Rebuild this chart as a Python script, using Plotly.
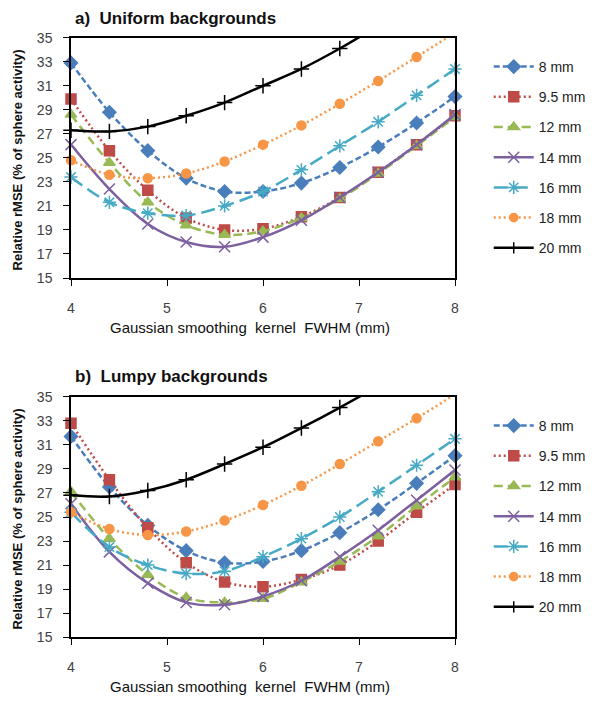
import plotly.graph_objects as go

fwhm = [4.0, 4.4, 4.8, 5.2, 5.6, 6.0, 6.4, 6.8, 7.2, 7.6, 8.0]
sizes = ["8 mm", "9.5 mm", "12 mm", "14 mm", "16 mm", "18 mm", "20 mm"]

uniform_8 = [32.9, 28.8, 25.6, 23.3, 22.2, 22.2, 22.9, 24.2, 25.9, 27.9, 30.1]
uniform_9_5 = [29.9, 25.6, 22.3, 20.0, 19.0, 19.1, 20.1, 21.7, 23.8, 26.1, 28.5]
uniform_12 = [28.6, 24.6, 21.3, 19.4, 18.6, 18.9, 20.0, 21.6, 23.7, 26.0, 28.4]
uniform_14 = [26.1, 22.4, 19.5, 18.0, 17.6, 18.4, 19.8, 21.7, 23.8, 26.1, 28.6]
uniform_16 = [23.4, 21.3, 20.4, 20.2, 21.0, 22.2, 24.0, 26.0, 28.0, 30.2, 32.4]
uniform_18 = [24.8, 23.6, 23.3, 23.7, 24.7, 26.1, 27.7, 29.5, 31.4, 33.4, 35.4]
uniform_20 = [27.3, 27.2, 27.6, 28.5, 29.6, 31.0, 32.4, 34.1, 36.0, 38.0, 40.1]

lumpy_8 = [31.7, 27.5, 24.3, 22.2, 21.2, 21.3, 22.2, 23.7, 25.6, 27.8, 30.1]
lumpy_9_5 = [32.8, 28.1, 24.1, 21.2, 19.6, 19.2, 19.8, 21.0, 23.0, 25.4, 27.7]
lumpy_12 = [27.1, 23.2, 20.2, 18.3, 17.9, 18.2, 19.6, 21.3, 23.4, 25.9, 28.3]
lumpy_14 = [26.1, 22.1, 19.5, 17.9, 17.7, 18.4, 19.7, 21.7, 23.9, 26.4, 28.9]
lumpy_16 = [25.4, 22.5, 21.0, 20.3, 20.5, 21.7, 23.2, 25.0, 27.1, 29.3, 31.5]
lumpy_18 = [25.4, 24.0, 23.5, 23.8, 24.7, 26.0, 27.6, 29.4, 31.3, 33.2, 35.2]
lumpy_20 = [26.8, 26.7, 27.2, 28.1, 29.4, 30.8, 32.4, 34.1, 35.9, 37.9, 39.9]

uniform = [uniform_8, uniform_9_5, uniform_12, uniform_14, uniform_16, uniform_18, uniform_20]
lumpy = [lumpy_8, lumpy_9_5, lumpy_12, lumpy_14, lumpy_16, lumpy_18, lumpy_20]

y_ticks = [15, 17, 19, 21, 23, 25, 27, 29, 31, 33, 35]
x_ticks = [4, 5, 6, 7, 8]
y_max = 35

colors = ["#4A7EBB", "#BE4B48", "#98B954", "#7D60A0", "#46AAC5", "#F79646", "#000000"]
dashes = ["6px,3px", "2px,3px", "9px,5px", "solid", "14px,6px", "2px,3px", "solid"]
symbols = ["diamond", "square", "triangle-up", "x-thin-open", "asterisk-open", "circle", "cross-thin-open"]
msizes = [10, 10, 10, 11, 11, 9, 11]

W, H = 595, 702
OFF = 8  # page body margin offset
ml, mt = 71 - OFF, 37 - OFF
pw, ph = 387, 601
mr = W - ml - pw
mb = H - mt - ph

def py(pix):
    return 1 - (pix - OFF - mt) / ph

def px(pix):
    return (pix - OFF - ml) / pw

fig = go.Figure()

for panel, (data, xa, ya, leg) in enumerate([(uniform, "x", "y", "legend"), (lumpy, "x2", "y2", "legend2")]):
    for i, name in enumerate(sizes):
        vals = data[i]
        fig.add_trace(go.Scatter(
            x=fwhm, y=vals, name=name, xaxis=xa, yaxis=ya, legend=leg,
            legendgroup=f"{panel}_{i}",
            mode="lines+markers", cliponaxis=False,
            line=dict(color=colors[i], width=2.5, dash=dashes[i], shape="spline", smoothing=1.0),
            marker=dict(symbol=symbols[i], color=colors[i], opacity=1,
                        size=[msizes[i] if v <= y_max else 0 for v in vals],
                        line=dict(color=colors[i], width=1.5)),
        ))

axis_common = dict(
    showline=True, linecolor="black", linewidth=1.5, mirror=True,
    ticks="outside", ticklen=6, tickcolor="black", tickwidth=1.2,
    showgrid=False, zeroline=False,
    tickfont=dict(family="Liberation Sans, Arial", size=14, color="#404040"),
)

top_dom = [py(278), py(37.7)]
bot_dom = [py(637.3), py(396.7)]

fig.update_layout(
    width=W, height=H,
    margin=dict(l=ml, r=mr, t=mt, b=mb),
    paper_bgcolor="white", plot_bgcolor="white",
    xaxis=dict(axis_common, range=[4, 8], tickvals=x_ticks, domain=[0, 1], anchor="y",
               ticklabelstandoff=10),
    yaxis=dict(axis_common, range=[15, 35], tickvals=y_ticks, domain=top_dom, anchor="x",
               ticklabelstandoff=8),
    xaxis2=dict(axis_common, range=[4, 8], tickvals=x_ticks, domain=[0, 1], anchor="y2",
                ticklabelstandoff=10),
    yaxis2=dict(axis_common, range=[15, 35], tickvals=y_ticks, domain=bot_dom, anchor="x2",
                ticklabelstandoff=8),
    legend=dict(x=px(492), xanchor="left", y=py(51), yanchor="top", traceorder="grouped",
                tracegroupgap=9, itemwidth=40,
                font=dict(family="Liberation Sans, Arial", size=14, color="#222")),
    legend2=dict(x=px(492), xanchor="left", y=py(410), yanchor="top", traceorder="grouped",
                 tracegroupgap=9, itemwidth=40,
                 font=dict(family="Liberation Sans, Arial", size=14, color="#222")),
    showlegend=True,
)

title_font = dict(family="Liberation Sans, Arial", size=17, color="#111")
label_font = dict(family="Liberation Sans, Arial", size=13, color="#111")
xlabel_font = dict(family="Liberation Sans, Arial", size=15, color="#111")

annotations = [
    dict(text="<b>a)  Uniform backgrounds</b>", x=px(73), y=py(18), xref="paper", yref="paper",
         xanchor="left", yanchor="middle", showarrow=False, font=title_font),
    dict(text="<b>b)  Lumpy backgrounds</b>", x=px(73), y=py(376), xref="paper", yref="paper",
         xanchor="left", yanchor="middle", showarrow=False, font=title_font),
    dict(text="Gaussian smoothing  kernel  FWHM (mm)", x=px(251), y=py(327), xref="paper",
         yref="paper", xanchor="center", yanchor="middle", showarrow=False, font=xlabel_font),
    dict(text="Gaussian smoothing  kernel  FWHM (mm)", x=px(251), y=py(686), xref="paper",
         yref="paper", xanchor="center", yanchor="middle", showarrow=False, font=xlabel_font),
    dict(text="<b>Relative rMSE (% of sphere activity)</b>", x=px(17), y=py(160), xref="paper",
         yref="paper", xanchor="center", yanchor="middle", showarrow=False, textangle=-90, font=label_font),
    dict(text="<b>Relative rMSE (% of sphere activity)</b>", x=px(17), y=py(519), xref="paper",
         yref="paper", xanchor="center", yanchor="middle", showarrow=False, textangle=-90, font=label_font),
]
fig.update_layout(annotations=annotations)

fig.write_html("out.html")
